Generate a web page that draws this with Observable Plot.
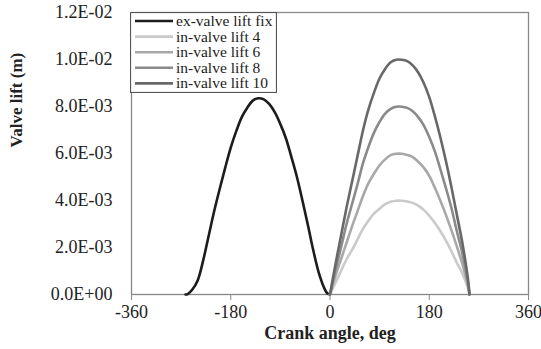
<!DOCTYPE html>
<html>
<head>
<meta charset="utf-8">
<script src="https://cdn.jsdelivr.net/npm/d3@7"></script>
<script src="https://cdn.jsdelivr.net/npm/@observablehq/plot@0.6"></script>
<style>
  body { margin: 0; background: #fff; }
  #wrap { position: relative; width: 541px; height: 349px; font-family: "Liberation Serif", serif; }
  #legend { position: absolute; left: 130px; top: 12px; }
</style>
</head>
<body>
<div id="wrap"></div>
<script>
// ---- data (lift in mm; converted to m below) ----
const seriesNames = ["ex-valve lift fix", "in-valve lift 4", "in-valve lift 6", "in-valve lift 8", "in-valve lift 10"];
const seriesColors = ["#1c1c1c", "#cacaca", "#a8a8a8", "#8a8a8a", "#686868"];

const exAngle = [-262, -258, -250, -240, -230, -220, -210, -200, -190, -180, -170, -160, -150, -140, -130, -120, -110, -100, -90, -80, -70, -60, -50, -40, -30, -20, -10, -5, 0];
const exLift  = [0, 0.02, 0.2, 0.6, 1.45, 2.5, 3.55, 4.5, 5.4, 6.25, 6.95, 7.55, 7.95, 8.25, 8.35, 8.3, 8.1, 7.75, 7.25, 6.65, 5.85, 5.0, 4.0, 2.95, 1.85, 0.9, 0.25, 0.05, 0];

const inAngle = [0, 10, 20, 30, 40, 50, 60, 70, 80, 90, 100, 110, 120, 130, 140, 150, 160, 170, 180, 190, 200, 210, 220, 230, 240, 250, 253];
const inLift4  = [0, 0.5, 1.0, 1.5, 1.9, 2.35, 2.8, 3.15, 3.45, 3.65, 3.85, 3.95, 3.99, 3.99, 3.96, 3.9, 3.78, 3.6, 3.35, 3.05, 2.7, 2.3, 1.85, 1.35, 0.9, 0.3, 0];
const inLift6  = [0, 0.8, 1.5, 2.2, 2.9, 3.55, 4.2, 4.75, 5.15, 5.5, 5.75, 5.93, 5.99, 5.99, 5.94, 5.85, 5.65, 5.4, 5.05, 4.55, 4.0, 3.4, 2.75, 2.05, 1.3, 0.4, 0];
const inLift8  = [0, 1.05, 2.0, 3.0, 3.85, 4.7, 5.6, 6.3, 6.9, 7.35, 7.7, 7.9, 7.99, 7.99, 7.94, 7.8, 7.55, 7.2, 6.7, 6.1, 5.35, 4.55, 3.7, 2.7, 1.75, 0.55, 0];
const inLift10 = [0, 1.3, 2.5, 3.7, 4.8, 5.9, 7.0, 7.9, 8.6, 9.2, 9.6, 9.88, 9.99, 9.99, 9.93, 9.75, 9.45, 9.0, 8.4, 7.6, 6.7, 5.7, 4.6, 3.4, 2.2, 0.7, 0];

const xTicks = [-360, -180, 0, 180, 360];
const yTicks = [0, 0.002, 0.004, 0.006, 0.008, 0.010, 0.012];
const xTitle = "Crank angle, deg";
const yTitle = "Valve lift (m)";

// ---- build table ----
const rows = [];
exAngle.forEach((a, i) => rows.push({series: seriesNames[0], angle: a, lift: exLift[i] / 1000}));
[inLift4, inLift6, inLift8, inLift10].forEach((arr, k) => {
  inAngle.forEach((a, i) => rows.push({series: seriesNames[k + 1], angle: a, lift: arr[i] / 1000}));
});

const fmtE = d => {
  if (d === 0) return "0.0E+00";
  const [m, e] = d.toExponential(1).split("e");
  const ei = +e;
  return m + "E" + (ei < 0 ? "-" : "+") + String(Math.abs(ei)).padStart(2, "0");
};

const chart = Plot.plot({
  width: 541,
  height: 349,
  marginLeft: 131,
  marginRight: 13,
  marginTop: 12,
  marginBottom: 55,
  style: {fontFamily: "Liberation Serif, serif", fontSize: "18px", color: "#222", background: "#fff"},
  x: {domain: [-360, 360]},
  y: {domain: [0, 0.012]},
  color: {domain: seriesNames, range: seriesColors},
  marks: [
    Plot.axisX({ticks: xTicks, tickSize: 6, tickPadding: 5, stroke: "#888", fill: "#222", label: null, tickFormat: d => String(d)}),
    Plot.axisY({ticks: yTicks, tickSize: 0, tickPadding: 19, fill: "#222", label: null, tickFormat: fmtE}),
    Plot.frame({stroke: "#888", strokeWidth: 1.3}),
    Plot.line(rows, {x: "angle", y: "lift", z: "series", stroke: "series", strokeWidth: 2.6, curve: "catmull-rom"}),
    Plot.text([xTitle], {frameAnchor: "bottom", dy: 44, fontWeight: "bold", fontSize: 18, fill: "#222"}),
    Plot.text([yTitle], {frameAnchor: "left", dx: -115, dy: -6, rotate: -90, fontWeight: "bold", fontSize: 17, fill: "#222"})
  ]
});
document.getElementById("wrap").appendChild(chart);

// ---- legend (inside plot, top-left) ----
const lw = 147, lh = 81;
const leg = d3.select("#wrap").append("svg")
  .attr("id", "legend").attr("width", lw).attr("height", lh)
  .style("font-family", "Liberation Serif, serif").style("font-size", "15.5px");
leg.append("rect").attr("x", 0.5).attr("y", 0.5).attr("width", lw - 1).attr("height", lh - 1)
  .attr("fill", "#fff").attr("stroke", "#555").attr("stroke-width", 1.2);
seriesNames.forEach((name, i) => {
  const yy = 9 + i * 15.6;
  leg.append("line").attr("x1", 5).attr("x2", 43).attr("y1", yy).attr("y2", yy)
    .attr("stroke", seriesColors[i]).attr("stroke-width", 2.6);
  leg.append("text").attr("x", 46).attr("y", yy).attr("dy", "0.32em").attr("fill", "#222").text(name);
});
</script>
</body>
</html>
